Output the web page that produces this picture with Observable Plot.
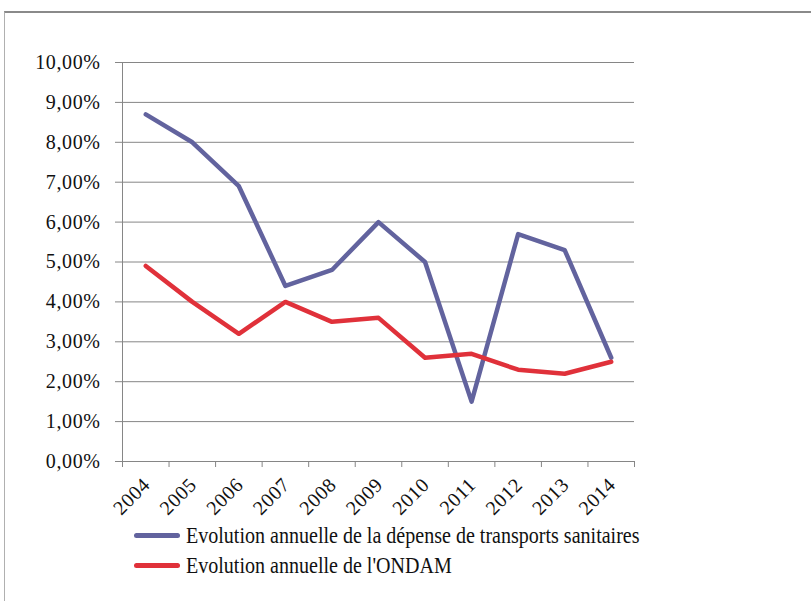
<!DOCTYPE html>
<html>
<head>
<meta charset="utf-8">
<script src="https://cdn.jsdelivr.net/npm/d3@7"></script>
<script src="https://cdn.jsdelivr.net/npm/@observablehq/plot@0.6"></script>
<style>
  html, body { margin: 0; padding: 0; background: #fff; }
  #frame { position: absolute; left: 4px; top: 11px; width: 900px; height: 700px;
           border-top: 2px solid #8a8a8a; border-left: 1px solid #b0b0b0; }
  #chart { position: absolute; left: 0; top: 0; }
  #chart text { letter-spacing: 0.6px; }
  #legend { position: absolute; left: 134px; top: 520px; font-family: "Liberation Serif", serif; font-size: 24px; color: #111; }
  .row { display: flex; align-items: center; height: 30px; }
  .sw { width: 46px; height: 5px; border-radius: 3px; margin-right: 6px; flex: none; }
  .lt { display: inline-block; transform: scaleX(0.835); transform-origin: 0 50%; white-space: nowrap; }
</style>
</head>
<body>
<div id="frame"></div>
<div id="chart"></div>
<div id="legend"></div>
<script>
const years = ["2004","2005","2006","2007","2008","2009","2010","2011","2012","2013","2014"];
const transports = [8.7, 8.0, 6.9, 4.4, 4.8, 6.0, 5.0, 1.5, 5.7, 5.3, 2.6];
const ondam = [4.9, 4.0, 3.2, 4.0, 3.5, 3.6, 2.6, 2.7, 2.3, 2.2, 2.5];
const seriesNames = ["Evolution annuelle de la dépense de transports sanitaires", "Evolution annuelle de l'ONDAM"];
const seriesColors = ["#62639e", "#e0313a"];
const yTicks = [0,1,2,3,4,5,6,7,8,9,10];

const rows = [];
years.forEach((y, i) => {
  rows.push({i, year: y, v: transports[i] / 100, s: seriesNames[0]});
  rows.push({i, year: y, v: ondam[i] / 100, s: seriesNames[1]});
});
const fmt = d => (d * 100).toFixed(2).replace(".", ",") + "%";

const chart = Plot.plot({
  width: 811,
  height: 520,
  marginLeft: 122,
  marginRight: 177,
  marginTop: 62,
  marginBottom: 59,
  style: {fontFamily: "'Liberation Serif', serif", fontSize: "20px", color: "#111", background: "transparent"},
  x: {type: "linear", domain: [0, years.length]},
  y: {domain: [0, 0.10]},
  marks: [
    Plot.gridY(yTicks.map(t => t / 100), {stroke: "#868686", strokeOpacity: 1, strokeWidth: 1}),
    Plot.axisY(yTicks.map(t => t / 100), {tickFormat: fmt, tickSize: 7, tickPadding: 15, stroke: "#868686", strokeWidth: 1, label: null, fontSize: 20}),
    Plot.ruleX([0], {stroke: "#868686", y1: 0, y2: 0.10}),
    Plot.axisX(d3.range(years.length + 1), {tickFormat: () => "", tickSize: 6, stroke: "#868686", label: null}),
    Plot.axisX(d3.range(years.length).map(i => i + 0.5), {tickFormat: d => years[Math.floor(d)], tickSize: 0, tickPadding: 20, tickRotate: -45, label: null, dx: 1, fontSize: 20}),
    Plot.line(rows, {x: d => d.i + 0.5, y: "v", z: "s", stroke: "s", strokeWidth: 4.5, strokeLinejoin: "round", strokeLinecap: "round"})
  ],
  color: {domain: seriesNames, range: seriesColors}
});
document.getElementById("chart").appendChild(chart);

const legend = document.getElementById("legend");
seriesNames.forEach((n, k) => {
  const r = document.createElement("div");
  r.className = "row";
  const sw = document.createElement("div");
  sw.className = "sw";
  sw.style.background = seriesColors[k];
  const t = document.createElement("span");
  t.className = "lt";
  t.textContent = n;
  r.appendChild(sw); r.appendChild(t);
  legend.appendChild(r);
});
</script>
</body>
</html>
